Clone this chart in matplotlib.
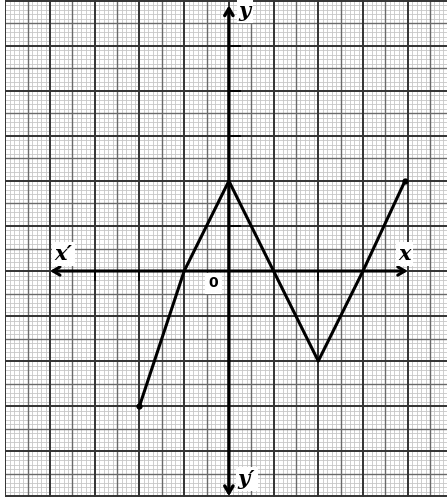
import numpy as np
import matplotlib
matplotlib.use("Agg")
import matplotlib.pyplot as plt

# data
xs = [-2, -1, 0, 1, 2, 3, 3.94]
ys = [-3, 0, 2, 0, -2, 0, 2]
xticks_shown = [-3, -2, 2]
yticks_shown = [1, 3, 4, 5]

W, H = 447, 503
fig = plt.figure(figsize=(W/100, H/100), dpi=100)
xmin, xmax = -5.02, 4.88
ymin, ymax = -5.02, 6.02
left_px, bottom_px = 4.5, 503 - 497
ax = fig.add_axes([left_px/W, bottom_px/H, (W-left_px)/W, 497/H])
ax.set_xlim(xmin, xmax)
ax.set_ylim(ymin, ymax)
ax.axis('off')

# graph paper: minor, then half, then unit lines
styles = [(lambda k: k % 5 != 0, '#c6c6c6', 0.6, 1),
          (lambda k: k % 5 == 0 and k % 10 != 0, '#6a6a6a', 1.0, 2),
          (lambda k: k % 10 == 0, '#333333', 1.4, 3)]
for cond, c, lw, z in styles:
    for k in range(-50, 50):
        v = k/10
        if cond(k) and xmin - 0.01 <= v <= xmax:
            ax.plot([v, v], [ymin, ymax], color=c, lw=lw, zorder=z, solid_capstyle='butt')
    for k in range(-51, 62):
        v = k/10
        if cond(k) and ymin - 0.01 <= v <= ymax:
            ax.plot([xmin, xmax], [v, v], color=c, lw=lw, zorder=z, solid_capstyle='butt')

# axes lines with open arrow heads
ax.annotate('', xy=(4.0, 0), xytext=(-4.0, 0),
            arrowprops=dict(arrowstyle='<->,head_length=0.5,head_width=0.3', color='black', lw=2.2,
                            shrinkA=0, shrinkB=0), zorder=5)
ax.annotate('', xy=(0, 5.9), xytext=(0, -5.0),
            arrowprops=dict(arrowstyle='<->,head_length=0.5,head_width=0.3', color='black', lw=2.4,
                            shrinkA=0, shrinkB=0), zorder=5)

# ticks
for t in xticks_shown:
    ax.plot([t, t], [0, -0.2], color='black', lw=1.3, zorder=5)
for t in yticks_shown:
    ax.plot([0, 0.24], [t, t], color='black', lw=1.3, zorder=5)

# curve
ax.plot(xs, ys, color='black', lw=2.2, zorder=6, solid_joinstyle='round')
ax.plot([xs[0], xs[-1]], [ys[0], ys[-1]], 'o', color='black', ms=3.5, zorder=7)

bbox = dict(facecolor='white', edgecolor='none', pad=1.5)
font = dict(family='DejaVu Serif', style='italic', weight='bold', fontsize=15)
ax.text(0.22, 5.77, 'y', ha='left', va='center', bbox=bbox, zorder=8, **font)
ax.text(3.93, 0.38, 'x', ha='center', va='center', bbox=bbox, zorder=8, **font)
ax.text(-3.7, 0.37, "x\u2032", ha='center', va='center', bbox=bbox, zorder=8, **font)
ax.text(0.2, -4.62, "y\u2032", ha='left', va='center', bbox=bbox, zorder=8, **font)
ax.text(-0.35, -0.27, '0', ha='center', va='center', fontsize=10, weight='bold',
        family='DejaVu Sans', bbox=dict(facecolor='white', edgecolor='none', pad=2.5), zorder=8)

fig.savefig('out.png', dpi=100, facecolor='white')
